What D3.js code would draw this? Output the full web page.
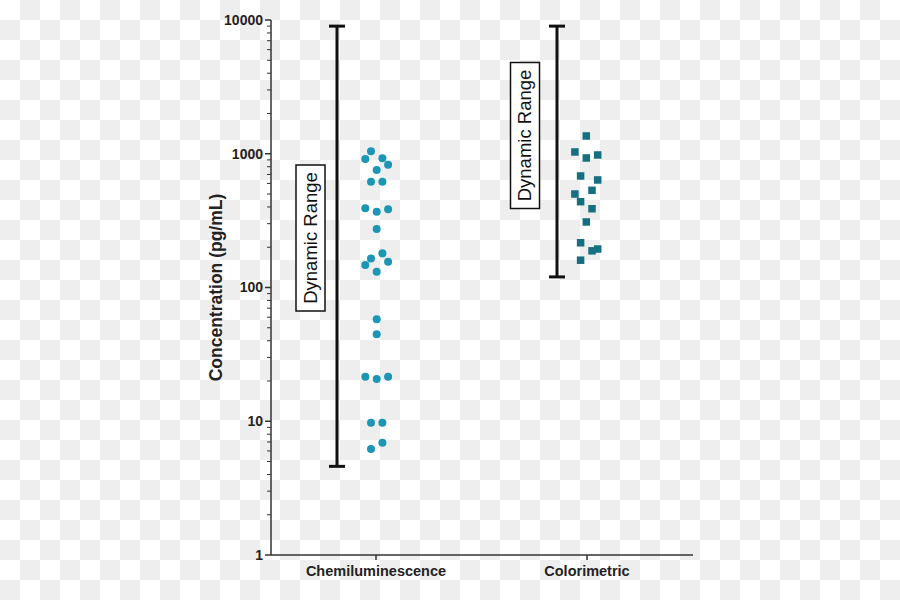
<!DOCTYPE html>
<html>
<head>
<meta charset="utf-8">
<script src="https://cdn.jsdelivr.net/npm/d3@7"></script>
<style>
  body { margin: 0; }
  svg { display: block; font-family: "Liberation Sans", Arial, sans-serif; }
</style>
</head>
<body>
<svg id="chart" width="900" height="600"></svg>
<script>
//data
const categories = ["Chemiluminescence", "Colorimetric"];
const yTicks = [1, 10, 100, 1000, 10000];

//chemiluminescence points: value and lane (horizontal jitter slot)
const chemValues = [1043, 914, 925, 828, 756, 618, 618, 391, 369, 384, 274, 180, 165, 147, 156, 131, 58, 44.7, 21.5, 20.7, 21.5, 9.75, 9.75, 6.9, 6.2];
const chemLanes  = [-1, -2, 1, 2, 0, -1, 1, -2, 0, 2, 0, 1, -1, -2, 2, 0, 0, 0, -2, 0, 2, -1, 1, 1, -1];

//colorimetric points
const colorValues = [1358, 1031, 930, 979, 682, 637, 500, 533, 438, 388, 309, 216, 188, 194, 160];
const colorLanes  = [0, -2, 0, 2, -1, 2, -2, 1, -1, 1, 0, -1, 1, 2, -1];

//dynamic range (min, max) for each method
const rangeMin = [4.6, 120];
const rangeMax = [9000, 9000];

const width = 900, height = 600;
const margin = { left: 271, right: 207, top: 20, bottom: 45 };
const laneStep = 5.7;

const svg = d3.select("#chart");

/*----------------------
CHECKERBOARD BACKGROUND
----------------------*/
const cell = 20;
const cells = [];
for (let i = 0; i < width / cell; i++) {
  for (let j = 0; j < height / cell; j++) {
    if ((i + j) % 2 === 1) cells.push([i, j]);
  }
}
svg.append("rect").attr("width", width).attr("height", height).attr("fill", "#ffffff");
svg.append("g").selectAll("rect").data(cells).join("rect")
  .attr("x", d => d[0] * cell)
  .attr("y", d => d[1] * cell)
  .attr("width", cell)
  .attr("height", cell)
  .attr("fill", "#eeeeee");

/*----------------------
SCALES
----------------------*/
const y = d3.scaleLog()
  .domain([1, 10000])
  .range([height - margin.bottom, margin.top]);

const x = d3.scalePoint()
  .domain(categories)
  .range([376, 587]);

/*----------------------
AXES
----------------------*/
const minorTicks = [];
for (let p = 0; p < 4; p++) {
  for (let k = 2; k <= 9; k++) minorTicks.push(k * Math.pow(10, p));
}

const yAxis = svg.append("g").attr("transform", `translate(${margin.left},0)`);
yAxis.append("line")
  .attr("y1", y(1)).attr("y2", y(10000))
  .attr("stroke", "#333").attr("stroke-width", 1.5);
yAxis.selectAll(".minor").data(minorTicks).join("line")
  .attr("x1", -4).attr("x2", 0)
  .attr("y1", d => y(d)).attr("y2", d => y(d))
  .attr("stroke", "#333").attr("stroke-width", 1);
yAxis.selectAll(".major").data(yTicks).join("line")
  .attr("x1", -6).attr("x2", 0)
  .attr("y1", d => y(d)).attr("y2", d => y(d))
  .attr("stroke", "#333").attr("stroke-width", 1.5);
yAxis.selectAll("text").data(yTicks).join("text")
  .attr("x", -8)
  .attr("y", d => y(d))
  .attr("dy", "0.35em")
  .attr("text-anchor", "end")
  .attr("font-size", 14)
  .attr("font-weight", "bold")
  .attr("fill", "#222")
  .text(d => d);

const xAxis = svg.append("g").attr("transform", `translate(0,${y(1)})`);
xAxis.append("line")
  .attr("x1", margin.left).attr("x2", width - margin.right)
  .attr("stroke", "#333").attr("stroke-width", 1.5);
xAxis.selectAll(".tick").data(categories).join("line")
  .attr("x1", d => x(d)).attr("x2", d => x(d))
  .attr("y1", 0).attr("y2", 5)
  .attr("stroke", "#333").attr("stroke-width", 1.5);
xAxis.selectAll("text").data(categories).join("text")
  .attr("x", d => x(d))
  .attr("y", 21)
  .attr("text-anchor", "middle")
  .attr("font-size", 14.5)
  .attr("font-weight", "bold")
  .attr("fill", "#222")
  .text(d => d);

svg.append("text")
  .attr("transform", `translate(222,${y(100) + 0}) rotate(-90)`)
  .attr("text-anchor", "middle")
  .attr("font-size", 17.5)
  .attr("font-weight", "bold")
  .attr("fill", "#222")
  .text("Concentration (pg/mL)");

/*----------------------
DYNAMIC RANGE BARS
----------------------*/
const barOffset = -39;
const capHalf = 8;
const ranges = svg.append("g");
categories.forEach((c, i) => {
  const bx = x(c) + barOffset + (i === 1 ? 9 : 0);
  const g = ranges.append("g");
  g.append("line")
    .attr("x1", bx).attr("x2", bx)
    .attr("y1", y(rangeMin[i])).attr("y2", y(rangeMax[i]))
    .attr("stroke", "#111").attr("stroke-width", 3);
  [rangeMin[i], rangeMax[i]].forEach(v => {
    g.append("line")
      .attr("x1", bx - capHalf).attr("x2", bx + capHalf)
      .attr("y1", y(v)).attr("y2", y(v))
      .attr("stroke", "#111").attr("stroke-width", 3);
  });
});

//labels in boxes
const boxCentre = [[310.5, 238], [525, 135.5]];
boxCentre.forEach(([cx, cy]) => {
  const g = svg.append("g").attr("transform", `translate(${cx},${cy}) rotate(-90)`);
  g.append("rect")
    .attr("x", -73).attr("y", -14.5)
    .attr("width", 146).attr("height", 29)
    .attr("fill", "#ffffff")
    .attr("stroke", "#111").attr("stroke-width", 1.5);
  g.append("text")
    .attr("text-anchor", "middle")
    .attr("dy", "0.35em")
    .attr("font-size", 18.5)
    .attr("fill", "#111")
    .text("Dynamic Range");
});

/*----------------------
POINTS
----------------------*/
svg.append("g").selectAll("circle").data(chemValues).join("circle")
  .attr("cx", (d, i) => x(categories[0]) + 0.7 + chemLanes[i] * laneStep)
  .attr("cy", d => y(d))
  .attr("r", 4)
  .attr("fill", "#1b96b5");

const sq = 7.5;
svg.append("g").selectAll("rect").data(colorValues).join("rect")
  .attr("x", (d, i) => x(categories[1]) - 0.7 + colorLanes[i] * laneStep - sq / 2)
  .attr("y", d => y(d) - sq / 2)
  .attr("width", sq)
  .attr("height", sq)
  .attr("fill", "#146f80");
</script>
</body>
</html>
